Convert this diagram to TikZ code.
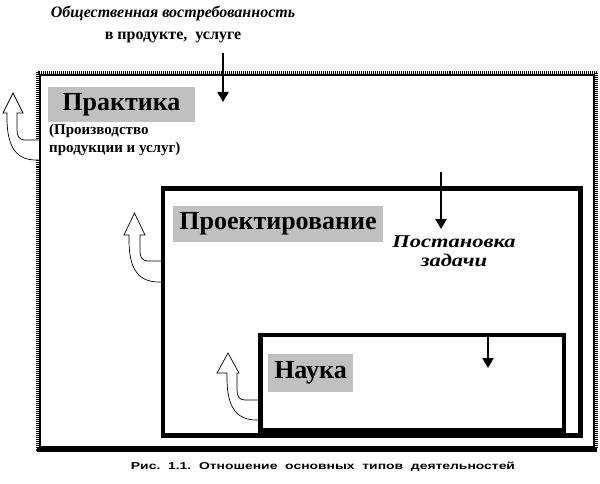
\documentclass[tikz,border=0pt]{standalone}
\usepackage{fontspec}
\setmainfont{Liberation Serif}
\newfontfamily\capfont{Liberation Sans}
\usetikzlibrary{arrows.meta}
\definecolor{labgray}{RGB}{192,192,192}
\newcommand\bentarrow[9]{% X, Yb, Yi, Xo, Xi, Yh, hL, hR, tipY
  \draw[hollow] (#1,#3) -- ({#5+8},#3) .. controls ({#5+2},#3) and (#5,{#3-4}) .. (#5,{#3-10})
    -- (#5,#6) -- (#8,#6) -- ({(#7+#8)/2},#9) -- (#7,#6) -- (#4,#6) -- (#4,{#6+5})
    .. controls (#4,{#2-12}) and ({#4+10},#2) .. ({#1-4},#2) -- (#1,#2) -- cycle;}
\begin{document}
\begin{tikzpicture}[x=1pt,y=-1pt,
  lab/.style={fill=labgray, font=\fontsize{26}{30}\selectfont\bfseries, inner sep=0pt},
  frame/.style={draw=black, line width=4.5pt, inner sep=0pt},
  downarrow/.style={line width=2.5pt, -{Triangle[width=11pt,length=10pt]}},
  hollow/.style={draw=black, fill=white, line width=0.7pt, line join=miter}
]
\fill[white] (0,0) rectangle (600,484);
\useasboundingbox (0,0) rectangle (600,484);

% outer frame (dotted band + solid line + bottom shadow)
\draw[line width=3pt, dash pattern=on 1pt off 1pt] (37.5,72.5) rectangle (596.5,449);
\draw[line width=4pt] (37,450) -- (597,450);
\bentarrow{40}{160}{140}{7}{17}{113}{3}{23}{93}
\node[draw, line width=2pt, minimum width=554pt, minimum height=372pt, inner sep=0pt] (outer) at (316.5,261) {};

% middle and inner frames
\bentarrow{163}{282}{261}{129}{140}{235}{124}{145}{213}
\node[frame, minimum width=417.5pt, minimum height=247pt] (middle) at (371.75,312) {};
\bentarrow{260.5}{420}{400}{227}{237}{373}{217}{239}{353}
\node[frame, minimum width=303.5pt, minimum height=95.5pt] (inner) at (412.25,382.75) {};

% labels
\node[lab, minimum width=147pt, minimum height=35pt] (prak) at (121.5,104.5) {Практика};
\node[lab, minimum width=210pt, minimum height=36pt] (proj) at (278,224) {Проектирование};
\node[lab, minimum width=85pt, minimum height=38pt] (sci) at (310.5,373) {Наука};

\node[anchor=north west, inner sep=0pt, align=left, font=\fontsize{15}{18}\selectfont\bfseries] (prod) at (49,124) {(Производство\\продукции и услуг)};

\node[anchor=north, inner sep=0pt, align=center, font=\fontsize{16}{22}\selectfont\bfseries] (demand) at (173,6) {{\itshape Общественная востребованность}\\в продукте,\ \ услуге};

\node[anchor=north, inner sep=0pt, align=center, font=\fontsize{18}{19}\selectfont\bfseries\itshape] (task) at (454,236) {\scalebox{1.25}[1]{Постановка}\\\scalebox{1.25}[1]{задачи}};

% down arrows
\coordinate (d1s) at (223,53);
\coordinate (d1e) at (223,102);
\draw[downarrow] (d1s) -- (d1e);
\coordinate (d2s) at (441,172);
\coordinate (d2e) at (441,229);
\draw[downarrow] (d2s) -- (d2e);
\coordinate (d3s) at (488,333);
\coordinate (d3e) at (488,368);
\draw[downarrow] (d3s) -- (d3e);

% caption
\node[anchor=base, inner sep=0pt, font=\capfont\bfseries\fontsize{10}{12}\selectfont] (caption) at (323,469) {\scalebox{1.39}[1]{Рис.\ \ 1.1.\ \ Отношение\ \ основных\ \ типов\ \ деятельностей}};
\end{tikzpicture}
\end{document}
